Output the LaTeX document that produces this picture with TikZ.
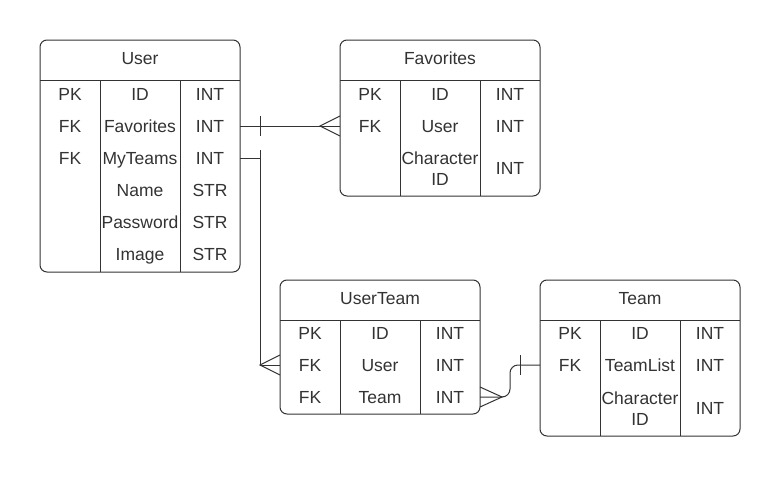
\documentclass[tikz,border=0pt]{standalone}
\usepackage[dvipsnames]{xcolor}
\usepackage{fontspec}
\setmainfont{Liberation Sans}
\usepackage{tikz}

\definecolor{inkgray}{HTML}{333333}

\begin{document}
\begin{tikzpicture}[x=1pt, y=-1pt,
  cell/.style={anchor=center, inner sep=0pt, text=inkgray, font=\fontsize{17.5}{21}\selectfont, text height=12.5pt, text depth=0pt},
  cellwrap/.style={anchor=center, inner sep=0pt, text=inkgray, font=\fontsize{17.5}{21}\selectfont, align=center},
  tablebox/.style={draw=inkgray, line width=1pt, rounded corners=7pt, minimum width=200pt, outer sep=0pt, inner sep=0pt},
  rule/.style={draw=inkgray, line width=1pt},
  link/.style={draw=inkgray, line width=1pt}]
\useasboundingbox[fill=white] (0,0) rectangle (780,477);

\node[tablebox, minimum height=232pt] (user) at (140,156) {};
\node[tablebox, minimum height=156pt] (fav) at (440,118) {};
\node[tablebox, minimum height=134pt] (userteam) at (380,347) {};
\node[tablebox, minimum height=156pt] (team) at (640,358) {};

\draw[rule] (40,80) -- (240,80) (100,80) -- (100,272) (180,80) -- (180,272);
\draw[rule] (340,80) -- (540,80) (400,80) -- (400,196) (480,80) -- (480,196);
\draw[rule] (280,320) -- (480,320) (340,320) -- (340,414) (420,320) -- (420,414);
\draw[rule] (540,320) -- (740,320) (600,320) -- (600,436) (680,320) -- (680,436);

\node[cell] (u-head) at (140,58) {User};
\node[cell] (u-k1) at (70,94) {PK};
\node[cell] (u-id) at (140,94) {ID};
\node[cell] (u-t1) at (210,94) {INT};
\node[cell] (u-k2) at (70,126) {FK};
\node[cell] (u-fav) at (140,126) {Favorites};
\node[cell] (u-t2) at (210,126) {INT};
\node[cell] (u-k3) at (70,158) {FK};
\node[cell] (u-team) at (140,158) {MyTeams};
\node[cell] (u-t3) at (210,158) {INT};
\node[cell] (u-name) at (140,190) {Name};
\node[cell] (u-t4) at (210,190) {STR};
\node[cell] (u-pass) at (140,222) {Password};
\node[cell] (u-t5) at (210,222) {STR};
\node[cell] (u-img) at (140,254) {Image};
\node[cell] (u-t6) at (210,254) {STR};

\node[cell] (f-head) at (440,58) {Favorites};
\node[cell] (f-k1) at (370,94) {PK};
\node[cell] (f-id) at (440,94) {ID};
\node[cell] (f-t1) at (510,94) {INT};
\node[cell] (f-k2) at (370,126) {FK};
\node[cell] (f-user) at (440,126) {User};
\node[cell] (f-t2) at (510,126) {INT};
\node[cellwrap] (f-char) at (440,168.5) {Character\\ID};
\node[cell] (f-t3) at (510,168) {INT};

\node[cell] (ut-head) at (380,298) {UserTeam};
\node[cell] (ut-k1) at (310,333) {PK};
\node[cell] (ut-id) at (380,333) {ID};
\node[cell] (ut-t1) at (450,333) {INT};
\node[cell] (ut-k2) at (310,365) {FK};
\node[cell] (ut-user) at (380,365) {User};
\node[cell] (ut-t2) at (450,365) {INT};
\node[cell] (ut-k3) at (310,397) {FK};
\node[cell] (ut-team) at (380,397) {Team};
\node[cell] (ut-t3) at (450,397) {INT};

\node[cell] (t-head) at (640,298) {Team};
\node[cell] (t-k1) at (570,333) {PK};
\node[cell] (t-id) at (640,333) {ID};
\node[cell] (t-t1) at (710,333) {INT};
\node[cell] (t-k2) at (570,365) {FK};
\node[cell] (t-list) at (640,365) {TeamList};
\node[cell] (t-t2) at (710,365) {INT};
\node[cellwrap] (t-char) at (640,408.5) {Character\\ID};
\node[cell] (t-t3) at (710,408) {INT};

\draw[link] (user.east |- u-fav) -- (fav.west |- u-fav);
\draw[link] (user.east |- u-fav) ++(20,-10) -- ++(0,20);
\draw[link] (fav.west |- u-fav) ++(0,-10) -- ++(-20,10) -- ++(20,10);

\draw[link] (user.east |- u-team) -- ++(20,0) |- (userteam.west |- ut-user);
\draw[link] (user.east |- u-team) ++(20,-8) -- ++(0,16);
\draw[link] (userteam.west |- ut-user) ++(0,-10) -- ++(-20,10) -- ++(20,10);

\draw[link, rounded corners=8pt] (userteam.east |- ut-team) -- ++(30,0) |- (team.west |- t-list);
\draw[link] (userteam.east |- ut-team) ++(0,-10) -- ++(22,10) -- ++(-22,10);
\draw[link] (team.west |- t-list) ++(-20,-10) -- ++(0,20);
\end{tikzpicture}
\end{document}
